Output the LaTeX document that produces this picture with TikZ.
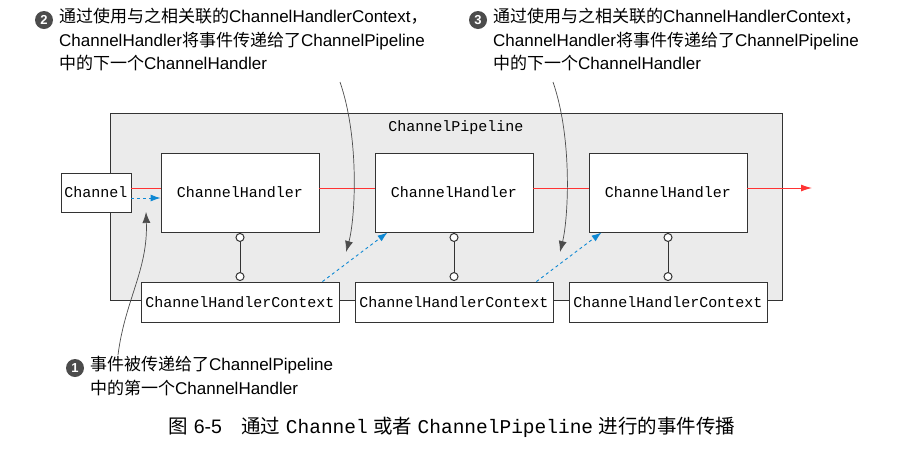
\documentclass[tikz,border=0pt]{standalone}
\usepackage{fontspec}
\setmainfont{Liberation Sans}
\setmonofont{Liberation Mono}
\newfontfamily\cjk{Noto Sans CJK SC}
\usetikzlibrary{arrows.meta,calc}
\newcommand{\zh}[1]{{\cjk #1}}
\begin{document}
\begin{tikzpicture}[x=1pt,y=-1pt,
 box/.style={draw=black!80,fill=white,font=\ttfamily\fontsize{15}{16}\selectfont,inner sep=0pt,line width=0.9pt},
 note/.style={anchor=north west,align=left,font=\fontsize{17}{23.5}\selectfont,inner sep=0pt},
 num/.style={circle,fill=black!70,text=white,inner sep=0pt,minimum size=18pt,font=\bfseries\fontsize{13}{13}\selectfont},
 blue/.style={draw=cyan!70!blue,dashed,line width=0.9pt,-{Latex[length=10pt,width=7pt]}},
 curv/.style={draw=black!70,-{Latex[length=11pt,width=8pt]},line width=0.7pt},
 lnk/.style={draw=black!80,line width=1pt}]
\useasboundingbox (0,0) rectangle (912,451);
\node[draw=black!80,fill=black!8,line width=0.9pt,minimum width=672pt,minimum height=187pt,inner sep=0pt] (pipe) at (446,206.5) {};
\node[font=\ttfamily\fontsize{15}{16}\selectfont] (pl) at (456,128) {ChannelPipeline};
\node[box,minimum width=70pt,minimum height=39pt] (ch) at (96,192.5) {Channel};
\foreach \i/\x in {1/240,2/454,3/668}{
 \node[box,minimum width=158pt,minimum height=79pt] (h\i) at (\x,192.5) {ChannelHandler};
 \node[box,minimum width=198pt,minimum height=40pt] (c\i) at (\x,302) {ChannelHandlerContext};
 \draw[lnk] (h\i.south) ++(0,5) coordinate (a\i) -- ($(c\i.north)+(0,-5)$) coordinate (b\i);
 \draw[lnk,fill=white] (a\i) circle (4pt);
 \draw[lnk,fill=white] (b\i) circle (4pt);
}
\coordinate (end) at (812,188);
\draw[red!80,line width=0.9pt] (ch.east |- 0,188) -- (h1.west |- 0,188);
\draw[red!80,line width=0.9pt] (h1.east |- 0,188) -- (h2.west |- 0,188);
\draw[red!80,line width=0.9pt] (h2.east |- 0,188) -- (h3.west |- 0,188);
\draw[red!80,line width=0.9pt,-{Latex[length=11pt,width=7pt]}] (h3.east |- 0,188) -- (end);
\draw[blue] (ch.east |- 0,198) -- (h1.west |- 0,198);
\draw[blue] ($(c1.north east)+(-17,0)$) -- ($(h2.south west)+(13,0)$);
\draw[blue] ($(c2.north east)+(-17,0)$) -- ($(h3.south west)+(13,0)$);
\node[num] (n2) at (44,20) {2};
\node[note] (t2) at (59,8) {\zh{通过使用与之相关联的}ChannelHandlerContext\zh{，}\\ChannelHandler\zh{将事件传递给了}ChannelPipeline\\\zh{中的下一个}ChannelHandler};
\node[num] (n3) at (478,20) {3};
\node[note] (t3) at (493,8) {\zh{通过使用与之相关联的}ChannelHandlerContext\zh{，}\\ChannelHandler\zh{将事件传递给了}ChannelPipeline\\\zh{中的下一个}ChannelHandler};
\node[num] (n1) at (75,368) {1};
\node[note] (t1) at (90,356) {\zh{事件被传递给了}ChannelPipeline\\\zh{中的第一个}ChannelHandler};
\coordinate (s2) at (340,82); \coordinate (e2) at (346,252);
\coordinate (s3) at (553,82); \coordinate (e3) at (560,252);
\coordinate (s1) at (118,355); \coordinate (e1) at (146,212);
\draw[curv] (s2) .. controls (360,140) and (355,220) .. (e2);
\draw[curv] (s3) .. controls (573,140) and (568,220) .. (e3);
\draw[curv] (s1) .. controls (125,300) and (148,270) .. (e1);
\node[font=\fontsize{19.5}{21}\selectfont] (cap) at (452,427) {\zh{图} 6-5\quad\zh{通过} {\ttfamily Channel} \zh{或者} {\ttfamily ChannelPipeline} \zh{进行的事件传播}};
\end{tikzpicture}
\end{document}
